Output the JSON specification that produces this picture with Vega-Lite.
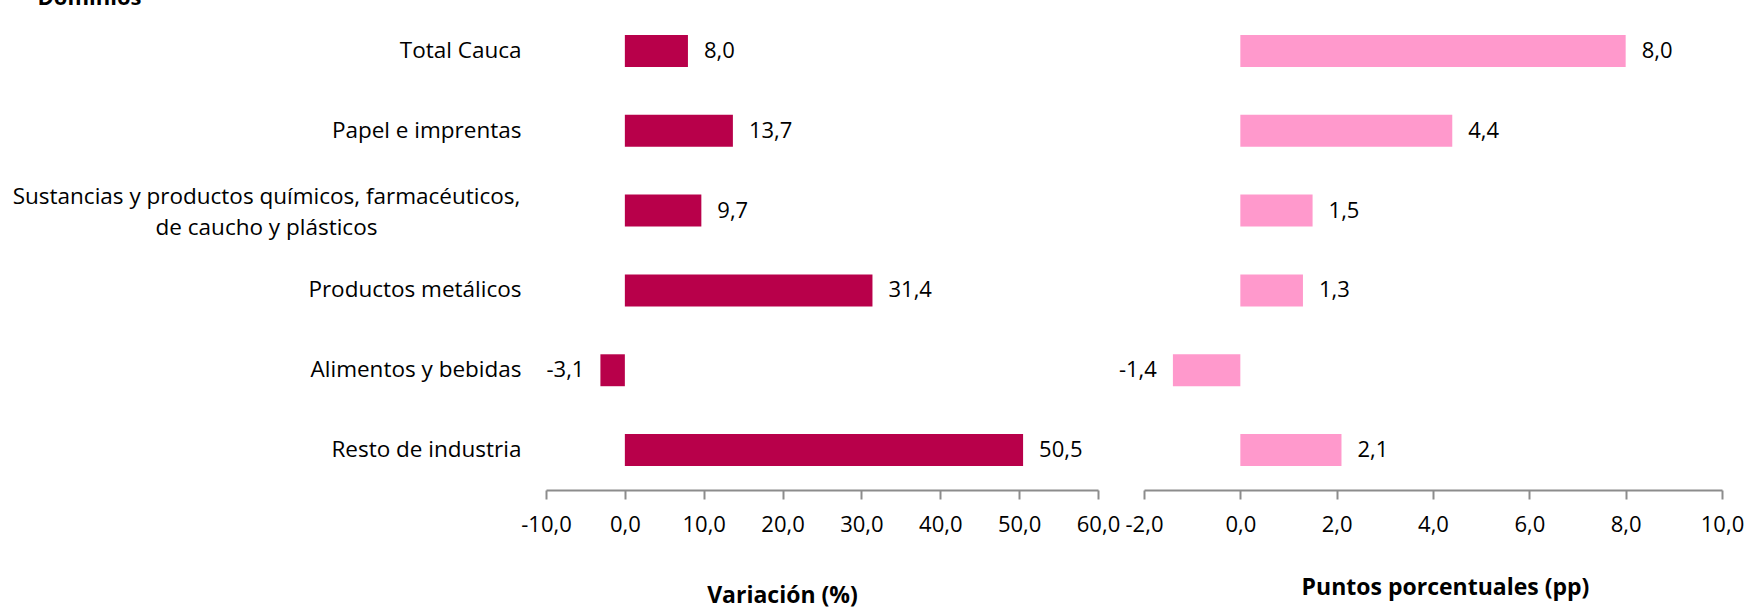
{
  "$schema": "https://vega.github.io/schema/vega-lite/v6.json",
  "padding": {"left": 12, "top": -14, "right": 0, "bottom": 0},
  "background": "white",
  "bounds": "flush",
  "config": {
    "locale": {
      "number": {"decimal": ",", "thousands": ".", "grouping": [3], "currency": ["$", ""], "minus": "-"}
    },
    "font": "Open Sans",
    "view": {"stroke": null},
    "axis": {
      "labelFont": "Open Sans",
      "titleFont": "Open Sans",
      "labelColor": "#000000",
      "titleColor": "#000000",
      "grid": false
    }
  },
  "data": {
    "values": [
      {"dominio": "Total Cauca", "variacion": 8.0, "pp": 8.0},
      {"dominio": "Papel e imprentas", "variacion": 13.7, "pp": 4.4},
      {"dominio": "Sustancias y productos químicos, farmacéuticos, de caucho y plásticos", "variacion": 9.7, "pp": 1.5},
      {"dominio": "Productos metálicos", "variacion": 31.4, "pp": 1.3},
      {"dominio": "Alimentos y bebidas", "variacion": -3.1, "pp": -1.4},
      {"dominio": "Resto de industria", "variacion": 50.5, "pp": 2.1}
    ]
  },
  "spacing": 46,
  "hconcat": [
    {
      "width": 552,
      "height": 479,
      "encoding": {
        "y": {
          "field": "dominio",
          "type": "nominal",
          "sort": null,
          "scale": {"paddingInner": 0.6, "paddingOuter": 0.3},
          "axis": {
            "title": "Dominios",
            "titleAngle": 0,
            "titleAlign": "left",
            "titleBaseline": "alphabetic",
            "titleX": -509,
            "titleY": -7,
            "titleFontSize": 22,
            "titleFontWeight": "bold",
            "domain": false,
            "ticks": false,
            "labelFontSize": 22.5,
            "labelLimit": 700,
            "labelLineHeight": 31,
            "labelExpr": "length(datum.value) > 40 ? ['Sustancias y productos químicos, farmacéuticos,', 'de caucho y plásticos'] : datum.value",
            "labelAlign": {"condition": {"test": "length(datum.value) > 40", "value": "center"}, "value": "right"},
            "labelPadding": {"condition": {"test": "length(datum.value) > 40", "value": 280}, "value": 25},
            "labelOffset": {"condition": {"test": "length(datum.value) > 40", "value": -14}, "value": 0}
          }
        }
      },
      "layer": [
        {
          "mark": {"type": "bar", "color": "#B8004A"},
          "encoding": {
            "x": {
              "field": "variacion",
              "type": "quantitative",
              "scale": {"domain": [-10, 60], "nice": false},
              "axis": {
                "values": [-10, 0, 10, 20, 30, 40, 50, 60],
                "format": ".1f",
                "title": "Variación (%)",
                "titleFontSize": 23,
                "titleFontWeight": "bold",
                "titleX": 236,
                "titleY": 105,
                "titleBaseline": "middle",
                "domainColor": "#8C8C8C",
                "domainWidth": 2,
                "tickColor": "#8C8C8C",
                "tickWidth": 2,
                "tickSize": 9,
                "labelFontSize": 22,
                "labelPadding": 15,
                "labelFlush": false
              }
            }
          }
        },
        {
          "mark": {"type": "rule", "color": "#8C8C8C", "strokeWidth": 2},
          "encoding": {"x": {"datum": 0}}
        },
        {
          "transform": [{"filter": "datum.variacion >= 0"}],
          "mark": {"type": "text", "align": "left", "dx": 16, "fontSize": 22, "color": "#000000"},
          "encoding": {
            "x": {"field": "variacion", "type": "quantitative"},
            "text": {"field": "variacion", "type": "quantitative", "format": ".1f"}
          }
        },
        {
          "transform": [{"filter": "datum.variacion < 0"}],
          "mark": {"type": "text", "align": "right", "dx": -16, "fontSize": 22, "color": "#000000"},
          "encoding": {
            "x": {"field": "variacion", "type": "quantitative"},
            "text": {"field": "variacion", "type": "quantitative", "format": ".1f"}
          }
        }
      ]
    },
    {
      "width": 578,
      "height": 479,
      "encoding": {
        "y": {
          "field": "dominio",
          "type": "nominal",
          "sort": null,
          "scale": {"paddingInner": 0.6, "paddingOuter": 0.3},
          "axis": null
        }
      },
      "layer": [
        {
          "mark": {"type": "bar", "color": "#FF99CC"},
          "encoding": {
            "x": {
              "field": "pp",
              "type": "quantitative",
              "scale": {"domain": [-2, 10], "nice": false},
              "axis": {
                "values": [-2, 0, 2, 4, 6, 8, 10],
                "format": ".1f",
                "title": "Puntos porcentuales (pp)",
                "titleFontSize": 23,
                "titleFontWeight": "bold",
                "titleX": 301,
                "titleY": 97,
                "titleBaseline": "middle",
                "domainColor": "#8C8C8C",
                "domainWidth": 2,
                "tickColor": "#8C8C8C",
                "tickWidth": 2,
                "tickSize": 9,
                "labelFontSize": 22,
                "labelPadding": 15,
                "labelFlush": false
              }
            }
          }
        },
        {
          "mark": {"type": "rule", "color": "#8C8C8C", "strokeWidth": 2},
          "encoding": {"x": {"datum": 0}}
        },
        {
          "transform": [{"filter": "datum.pp >= 0"}],
          "mark": {"type": "text", "align": "left", "dx": 16, "fontSize": 22, "color": "#000000"},
          "encoding": {
            "x": {"field": "pp", "type": "quantitative"},
            "text": {"field": "pp", "type": "quantitative", "format": ".1f"}
          }
        },
        {
          "transform": [{"filter": "datum.pp < 0"}],
          "mark": {"type": "text", "align": "right", "dx": -16, "fontSize": 22, "color": "#000000"},
          "encoding": {
            "x": {"field": "pp", "type": "quantitative"},
            "text": {"field": "pp", "type": "quantitative", "format": ".1f"}
          }
        }
      ]
    }
  ]
}
